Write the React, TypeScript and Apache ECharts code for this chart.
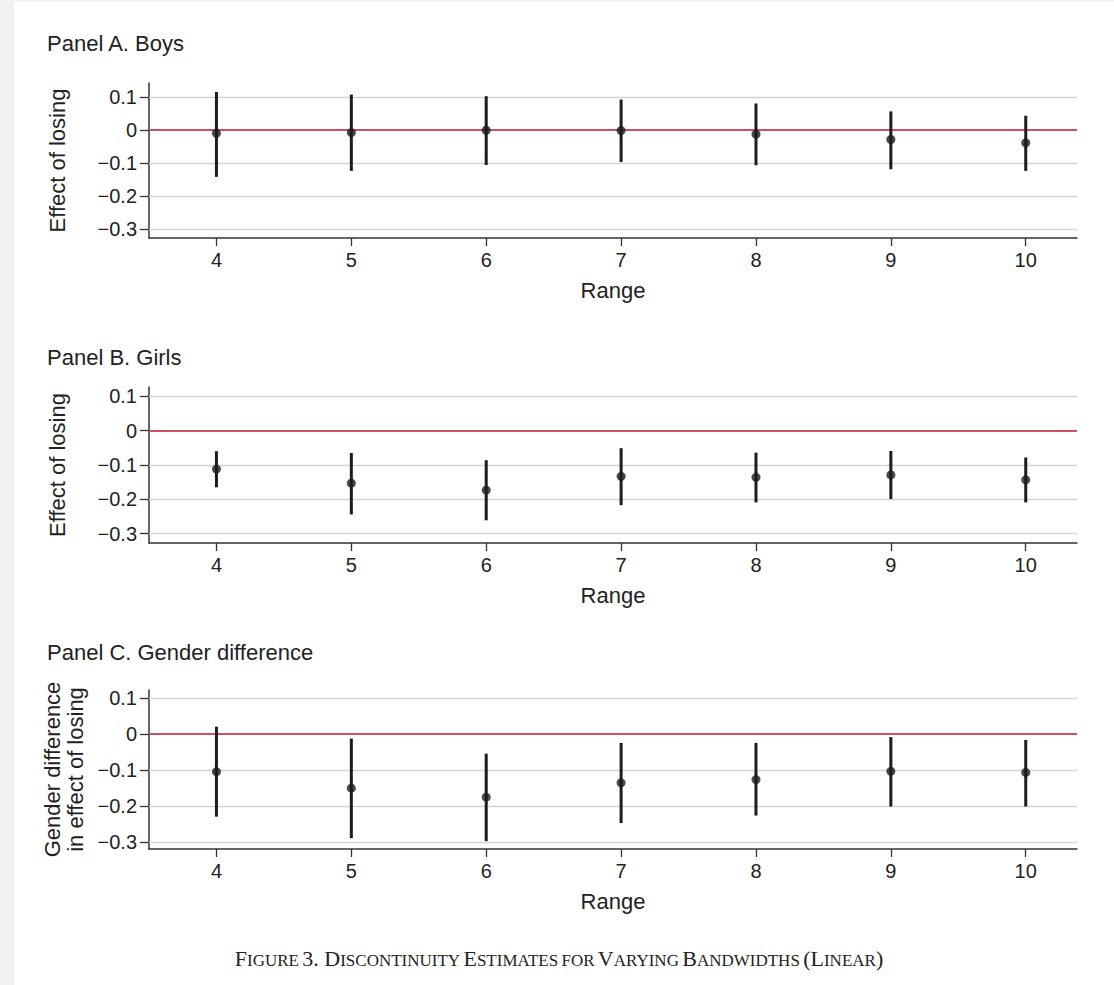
import React, { useEffect, useRef } from "react";
import * as echarts from "echarts";

const ranges = [4, 5, 6, 7, 8, 9, 10];
const boysEst = [-0.010, -0.008, -0.001, -0.002, -0.013, -0.029, -0.039];
const boysLo = [-0.142, -0.124, -0.106, -0.097, -0.107, -0.119, -0.124];
const boysHi = [0.115, 0.107, 0.102, 0.092, 0.080, 0.056, 0.043];
const girlsEst = [-0.112, -0.153, -0.173, -0.133, -0.136, -0.129, -0.143];
const girlsLo = [-0.165, -0.244, -0.261, -0.217, -0.209, -0.199, -0.209];
const girlsHi = [-0.060, -0.065, -0.086, -0.051, -0.064, -0.059, -0.078];
const diffEst = [-0.104, -0.150, -0.175, -0.135, -0.126, -0.103, -0.106];
const diffLo = [-0.229, -0.289, -0.297, -0.247, -0.226, -0.201, -0.201];
const diffHi = [0.021, -0.012, -0.054, -0.024, -0.024, -0.008, -0.016];
const yTicks = [-0.3, -0.2, -0.1, 0, 0.1];
const panelTitles = ["Panel A. Boys", "Panel B. Girls", "Panel C. Gender difference"];
const yNames = ["Effect of losing", "Effect of losing", "Gender difference\nin effect of losing"];
const xName = "Range";

const SANS = "'Liberation Sans', Arial, Helvetica, sans-serif";
const SERIF = "'Liberation Serif', 'Times New Roman', serif";
const INK = "#1c1c1c";
const TXT = "#222222";

const panels = [
  { est: boysEst, lo: boysLo, hi: boysHi, top: 83, height: 155, yMin: -0.327, yMax: 0.142, titleTop: 32, nameGap: 80 },
  { est: girlsEst, lo: girlsLo, hi: girlsHi, top: 387, height: 156, yMin: -0.327, yMax: 0.127, titleTop: 346, nameGap: 80 },
  { est: diffEst, lo: diffLo, hi: diffHi, top: 690, height: 159, yMin: -0.319, yMax: 0.123, titleTop: 641, nameGap: 61 },
];

const fmtY = (v: number) => {
  if (Math.abs(v) < 1e-9) return "0";
  return (v < 0 ? "\u2212" : "") + Math.abs(v).toFixed(1);
};

export default function App() {
  const ref = useRef<HTMLDivElement>(null);
  useEffect(() => {
    if (!ref.current) return;
    const chart = echarts.init(ref.current, undefined, { renderer: "svg" });

    const grid: any[] = [];
    const xAxis: any[] = [];
    const yAxis: any[] = [];
    const series: any[] = [];
    const title: any[] = [];

    panels.forEach((p, i) => {
      grid.push({ left: 149, width: 928, top: p.top, height: p.height });
      title.push({
        text: panelTitles[i],
        left: 47,
        top: p.titleTop,
        padding: 0,
        textStyle: { fontSize: 22, fontWeight: "normal", color: TXT, fontFamily: SANS },
      });
      xAxis.push({
        type: "value",
        gridIndex: i,
        min: 3.5,
        max: 10.38,
        name: xName,
        nameLocation: "middle",
        nameGap: 41,
        nameTextStyle: { fontSize: 22, color: TXT, fontFamily: SANS },
        axisLine: { show: true, onZero: false, lineStyle: { color: "#333", width: 1.5 } },
        axisTick: { show: true, customValues: ranges, length: 8, lineStyle: { color: "#333", width: 1.3 } },
        axisLabel: { customValues: ranges, fontSize: 20, margin: 12, color: TXT, fontFamily: SANS },
        splitLine: { show: false },
      });
      yAxis.push({
        type: "value",
        gridIndex: i,
        min: p.yMin,
        max: p.yMax,
        name: yNames[i],
        nameLocation: "middle",
        nameGap: p.nameGap,
        nameTextStyle: { fontSize: 22, color: TXT, fontFamily: SANS, lineHeight: 23 },
        axisLine: { show: true, onZero: false, lineStyle: { color: "#333", width: 1.5 } },
        axisTick: { show: true, customValues: yTicks, length: 9, lineStyle: { color: "#333", width: 1.3 } },
        axisLabel: { customValues: yTicks, fontSize: 20, margin: 12, color: TXT, fontFamily: SANS, formatter: fmtY },
        splitLine: { show: false },
      });
      series.push({
        type: "line",
        xAxisIndex: i,
        yAxisIndex: i,
        data: [],
        silent: true,
        markLine: {
          z: 1,
          silent: true,
          symbol: "none",
          label: { show: false },
          data: [
            ...yTicks
              .filter((v) => Math.abs(v) > 1e-9)
              .map((v) => ({ yAxis: v, lineStyle: { color: "#d4d4d4", width: 1.4, type: "solid" } })),
            { yAxis: 0, lineStyle: { color: "#cf4f63", width: 2, type: "solid" } },
          ],
        },
      });
      series.push({
        type: "custom",
        xAxisIndex: i,
        yAxisIndex: i,
        z: 3,
        data: ranges.map((r, k) => [r, p.lo[k], p.hi[k]]),
        encode: { x: 0, y: [1, 2] },
        renderItem: (params: any, api: any) => {
          const a = api.coord([api.value(0), api.value(1)]);
          const b = api.coord([api.value(0), api.value(2)]);
          return {
            type: "line",
            shape: { x1: a[0], y1: a[1], x2: b[0], y2: b[1] },
            style: { stroke: INK, lineWidth: 3 },
          };
        },
      });
      series.push({
        type: "scatter",
        xAxisIndex: i,
        yAxisIndex: i,
        z: 4,
        symbol: "circle",
        symbolSize: 9,
        itemStyle: { color: INK },
        data: ranges.map((r, k) => [r, p.est[k]]),
      });
    });

    const caption =
      "{c|F}{s|IGURE} {c|3. D}{s|ISCONTINUITY} {c|E}{s|STIMATES} {s|FOR} {c|V}{s|ARYING} {c|B}{s|ANDWIDTHS} {c|(L}{s|INEAR}{c|)}";

    chart.setOption({
      animation: false,
      backgroundColor: "#f2f2f2",
      title,
      grid,
      xAxis,
      yAxis,
      series,
      graphic: [
        { type: "rect", z: -10, silent: true, shape: { x: 14, y: 2, width: 1100, height: 983 }, style: { fill: "#ffffff" } },
        {
          type: "text",
          x: 559,
          y: 957,
          style: {
            text: caption,
            align: "center",
            verticalAlign: "middle",
            fill: TXT,
            rich: {
              c: { fontSize: 22, fontFamily: SERIF, fill: TXT, verticalAlign: "bottom", lineHeight: 24 },
              s: { fontSize: 17, fontFamily: SERIF, fill: TXT, verticalAlign: "bottom", lineHeight: 24 },
            },
          },
        },
      ],
    });
    return () => chart.dispose();
  }, []);
  return <div ref={ref} style={{ position: "fixed", left: 0, top: 0, width: 1114, height: 985 }} />;
}
